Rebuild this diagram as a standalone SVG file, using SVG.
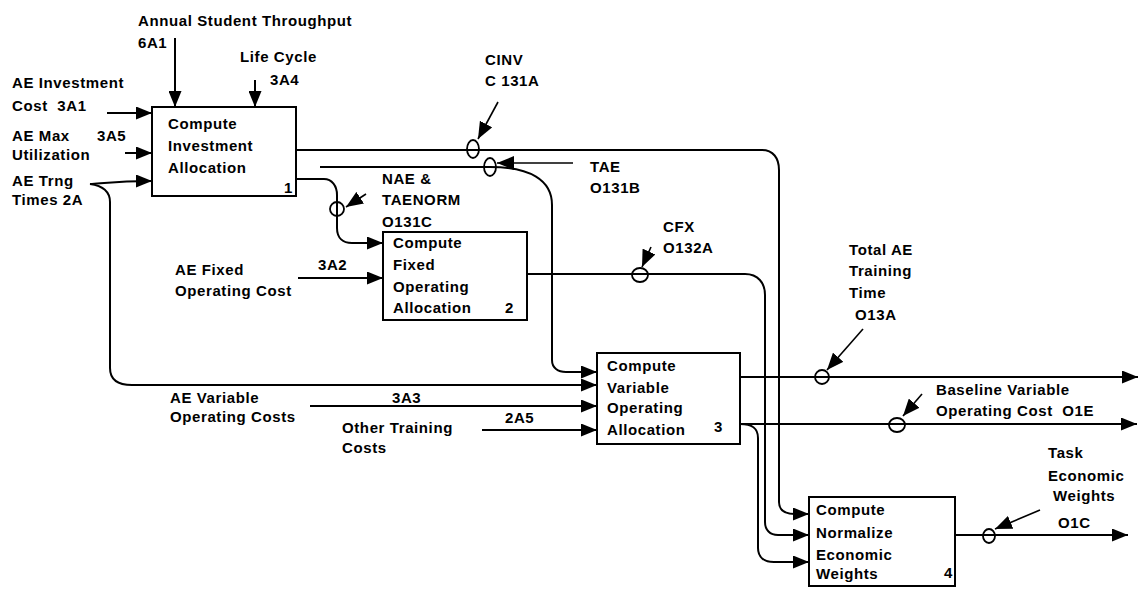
<svg xmlns="http://www.w3.org/2000/svg" width="1145" height="599" viewBox="0 0 1145 599">
<style>
.t{font-family:"Liberation Sans",Arial,Helvetica,sans-serif;font-size:15px;font-weight:bold;letter-spacing:0.6px;fill:#000}
.box{fill:#fff;stroke:#000;stroke-width:2}
.f{fill:none;stroke:#000;stroke-width:2;marker-end:url(#ah)}
.c{fill:none;stroke:#000;stroke-width:1.8}
.co{fill:none;stroke:#000;stroke-width:1.6;marker-end:url(#ch)}
</style>
<defs>
<marker id="ah" markerUnits="userSpaceOnUse" markerWidth="16" markerHeight="13" refX="16" refY="6.5" orient="auto"><path d="M0,0 L16,6.5 L0,13 z" fill="#000"/></marker>
<marker id="ch" markerUnits="userSpaceOnUse" markerWidth="17" markerHeight="14" refX="17" refY="7" orient="auto"><path d="M0,0 L17,7 L0,14 z" fill="#000"/></marker>
</defs>
<rect width="1145" height="599" fill="#fff"/>

<g id="node1">
<rect class="box" x="152" y="107" width="144" height="89"/>
<text class="t" x="168" y="129">Compute</text>
<text class="t" x="168" y="151">Investment</text>
<text class="t" x="168" y="173">Allocation</text>
<text class="t" x="284" y="193">1</text>
</g>
<g id="node2">
<rect class="box" x="383" y="232" width="144" height="88"/>
<text class="t" x="393" y="248">Compute</text>
<text class="t" x="393" y="270">Fixed</text>
<text class="t" x="393" y="292">Operating</text>
<text class="t" x="393" y="313">Allocation</text>
<text class="t" x="505" y="313">2</text>
</g>
<g id="node3">
<rect class="box" x="597" y="353" width="143" height="91"/>
<text class="t" x="607" y="371">Compute</text>
<text class="t" x="607" y="393">Variable</text>
<text class="t" x="607" y="413">Operating</text>
<text class="t" x="607" y="435">Allocation</text>
<text class="t" x="714" y="432">3</text>
</g>
<g id="node4">
<rect class="box" x="809" y="497" width="146" height="89"/>
<text class="t" x="816" y="515">Compute</text>
<text class="t" x="816" y="538">Normalize</text>
<text class="t" x="816" y="560">Economic</text>
<text class="t" x="816" y="579">Weights</text>
<text class="t" x="944" y="578">4</text>
</g>

<g id="connectors">
<path class="f" d="M175,38 V107"/>
<path class="f" d="M255,80 V107"/>
<path class="f" d="M107,113 H152"/>
<path class="f" d="M125,153 H152"/>
<path class="f" d="M90,184 C105,183 120,181 152,181"/>
<path class="f" d="M90,184 C104,186 110,192 110,202 V368 C110,379 117,385 132,385 H597"/>
<path class="f" d="M296,150 H762 C773,150 779,158 779,170 V502 C779,510 785,514 795,514 H809"/>
<path class="f" d="M296,179 H324 C332,179 337,186 337,195 V228 C337,238 343,243 352,243 H383"/>
<path class="f" d="M298,278 H383"/>
<path class="f" d="M320,167 H490 C530,167 552,180 552,205 V360 C552,368 558,372 566,372 H597"/>
<path class="f" d="M527,274 H745 C758,274 765,283 765,295 V522 C765,530 770,535 778,535 H809"/>
<path class="f" d="M310,406 H597"/>
<path class="f" d="M482,430 H597"/>
<path class="f" d="M740,377 H1138"/>
<path class="f" d="M740,424 H1137"/>
<path class="f" d="M740,424 C752,424 758,428 758,438 V548 C758,557 764,562 774,562 H809"/>
<path class="f" d="M955,535 H1128"/>

<ellipse class="c" cx="473" cy="149" rx="6" ry="9"/>
<ellipse class="c" cx="490" cy="167" rx="6" ry="9"/>
<ellipse class="c" cx="337" cy="209" rx="7" ry="7"/>
<ellipse class="c" cx="640" cy="275" rx="8" ry="7"/>
<ellipse class="c" cx="822" cy="377" rx="7" ry="7"/>
<ellipse class="c" cx="897" cy="425" rx="8" ry="7"/>
<ellipse class="c" cx="989" cy="536" rx="6" ry="7"/>

<path class="co" d="M498,102 L478,139"/>
<path class="co" d="M573,163 L497,163"/>
<path class="co" d="M366,194 L346,207"/>
<path class="co" d="M651,247 L642,267"/>
<path class="co" d="M863,329 L827,370"/>
<path class="co" d="M922,394 L903,416"/>
<path class="co" d="M1040,510 L995,529"/>
</g>

<g id="labels">
<text class="t" x="138" y="26">Annual Student Throughput</text>
<text class="t" x="138" y="48">6A1</text>
<text class="t" x="240" y="62">Life Cycle</text>
<text class="t" x="270" y="85">3A4</text>
<text class="t" x="12" y="88">AE Investment</text>
<text class="t" x="12" y="111">Cost&#160; 3A1</text>
<text class="t" x="12" y="141">AE Max</text>
<text class="t" x="97" y="141">3A5</text>
<text class="t" x="12" y="160">Utilization</text>
<text class="t" x="12" y="186">AE Trng</text>
<text class="t" x="12" y="205">Times 2A</text>
<text class="t" x="485" y="65">CINV</text>
<text class="t" x="485" y="86">C 131A</text>
<text class="t" x="590" y="172">TAE</text>
<text class="t" x="590" y="193">O131B</text>
<text class="t" x="382" y="184">NAE &amp;</text>
<text class="t" x="382" y="205">TAENORM</text>
<text class="t" x="382" y="227">O131C</text>
<text class="t" x="175" y="275">AE Fixed</text>
<text class="t" x="175" y="296">Operating Cost</text>
<text class="t" x="318" y="270">3A2</text>
<text class="t" x="663" y="232">CFX</text>
<text class="t" x="663" y="253">O132A</text>
<text class="t" x="849" y="255">Total AE</text>
<text class="t" x="849" y="276">Training</text>
<text class="t" x="849" y="298">Time</text>
<text class="t" x="855" y="320">O13A</text>
<text class="t" x="170" y="403">AE Variable</text>
<text class="t" x="170" y="422">Operating Costs</text>
<text class="t" x="392" y="403">3A3</text>
<text class="t" x="342" y="433">Other Training</text>
<text class="t" x="342" y="453">Costs</text>
<text class="t" x="505" y="423">2A5</text>
<text class="t" x="936" y="395">Baseline Variable</text>
<text class="t" x="936" y="416">Operating Cost&#160; O1E</text>
<text class="t" x="1048" y="458">Task</text>
<text class="t" x="1048" y="481">Economic</text>
<text class="t" x="1053" y="501">Weights</text>
<text class="t" x="1058" y="528">O1C</text>
</g>
</svg>
